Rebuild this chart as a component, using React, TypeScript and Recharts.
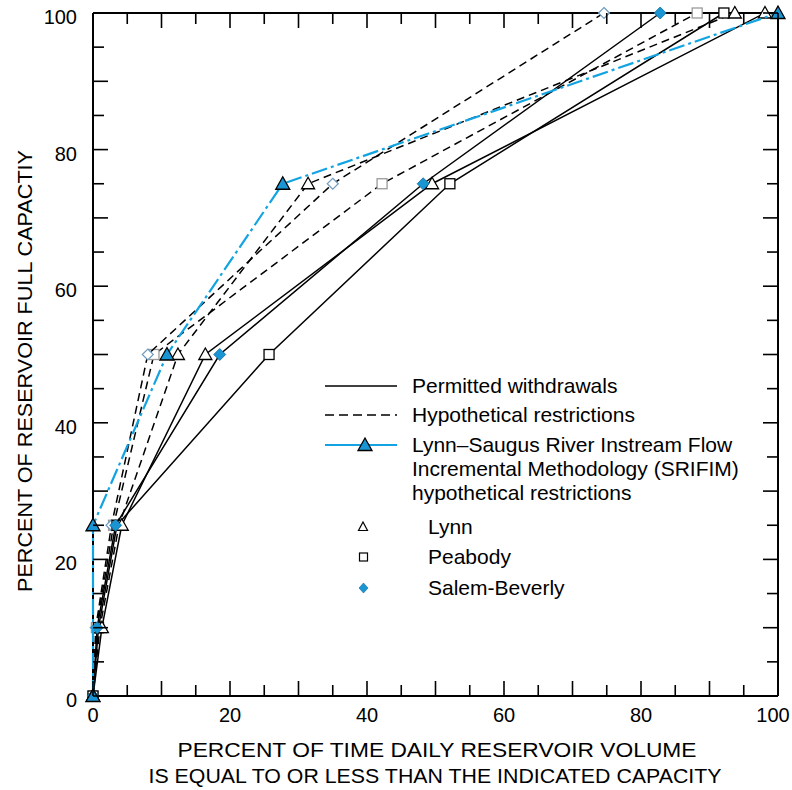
import React from 'react';
import { ScatterChart, Scatter, XAxis, YAxis } from 'recharts';

// ---- data (x = percent of time, y = percent of reservoir full capacity) ----
const capacityLevels = [0, 10, 25, 50, 75, 100];

const lynnPermitted = [0, 1.3, 4.2, 16.4, 49.5, 98.1];
const lynnHypothetical = [0, 1.0, 3.8, 12.4, 31.4, 93.7];
const peabodyPermitted = [0, 0.8, 3.5, 25.7, 52.1, 92.1];
const peabodyHypothetical = [0, 0.5, 3.0, 8.9, 42.2, 88.2];
const salemPermitted = [0, 0.6, 3.3, 18.5, 48.2, 82.8];
const salemHypothetical = [0, 0.4, 2.7, 8.0, 35.0, 74.6];

const srifimLevels = [0, 25, 50, 75, 100];
const srifimTime = [0, 0, 10.8, 27.7, 100];

const axisTicks = [0, 5, 10, 15, 20, 25, 30, 35, 40, 45, 50, 55, 60, 65, 70, 75, 80, 85, 90, 95, 100];
const labeledTicks = [0, 20, 40, 60, 80, 100];

const xTitle1 = 'PERCENT OF TIME DAILY RESERVOIR VOLUME';
const xTitle2 = 'IS EQUAL TO OR LESS THAN THE INDICATED CAPACITY';
const yTitle = 'PERCENT OF RESERVOIR FULL CAPACTIY';

const FONT = '"Liberation Sans", Arial, Helvetica, sans-serif';
const BLUE = '#12a4e2';
const BLUE_FILL = '#1995d3';

const toPoints = (xs: number[], ys: number[]) => xs.map((x, i) => ({ x, y: ys[i] }));

type Kind = 'tri' | 'triBlue' | 'sq' | 'sqGray' | 'dia' | 'diaOpen';

const Marker = ({ kind, cx, cy }: { kind: Kind; cx: number; cy: number }) => {
  if (cx == null || cy == null) return null;
  switch (kind) {
    case 'tri':
      return <polygon points={`${cx},${cy - 6.5} ${cx - 6.5},${cy + 5} ${cx + 6.5},${cy + 5}`} fill="#fff" stroke="#000" strokeWidth={1.3} />;
    case 'triBlue':
      return <polygon points={`${cx},${cy - 7} ${cx - 7},${cy + 5.5} ${cx + 7},${cy + 5.5}`} fill={BLUE_FILL} stroke="#000" strokeWidth={1.3} />;
    case 'sq':
      return <rect x={cx - 5} y={cy - 5} width={10} height={10} fill="#fff" stroke="#000" strokeWidth={1.3} />;
    case 'sqGray':
      return <rect x={cx - 5} y={cy - 5} width={10} height={10} fill="#fff" stroke="#9a9a9a" strokeWidth={1.3} />;
    case 'dia':
      return <polygon points={`${cx},${cy - 6} ${cx + 6},${cy} ${cx},${cy + 6} ${cx - 6},${cy}`} fill={BLUE_FILL} stroke="#0d6a9a" strokeWidth={0.8} />;
    case 'diaOpen':
      return <polygon points={`${cx},${cy - 5.5} ${cx + 5.5},${cy} ${cx},${cy + 5.5} ${cx - 5.5},${cy}`} fill="#fff" stroke="#6f9cc0" strokeWidth={1.2} />;
  }
  return null;
};

const TickMark = (props: any) => {
  const { x, y, payload, side } = props;
  const v = payload.value;
  const len = v % 10 === 0 ? 15 : 11;
  let x2 = x;
  let y2 = y;
  if (side === 'bottom') y2 = y - len;
  if (side === 'top') y2 = y + len;
  if (side === 'left') x2 = x + len;
  if (side === 'right') x2 = x - len;
  const show = labeledTicks.includes(v);
  return (
    <g>
      <line x1={x} y1={y} x2={x2} y2={y2} stroke="#000" strokeWidth={1.6} />
      {side === 'bottom' && show && (
        <text x={Math.min(x, 773)} y={y + 26} textAnchor="middle" fontSize={20} fontFamily={FONT} fill="#000">{v}</text>
      )}
      {side === 'left' && show && (
        <text x={x - 16} y={y + 11} textAnchor="end" fontSize={20} fontFamily={FONT} fill="#000">{v}</text>
      )}
    </g>
  );
};

const series = [
  { name: 'Peabody hyp', xs: peabodyHypothetical, ys: capacityLevels, kind: 'sqGray' as Kind, dash: '8 5', color: '#000', w: 1.5 },
  { name: 'Salem hyp', xs: salemHypothetical, ys: capacityLevels, kind: 'diaOpen' as Kind, dash: '8 5', color: '#000', w: 1.5 },
  { name: 'Lynn hyp', xs: lynnHypothetical, ys: capacityLevels, kind: 'tri' as Kind, dash: '8 5', color: '#000', w: 1.5 },
  { name: 'Peabody', xs: peabodyPermitted, ys: capacityLevels, kind: 'sq' as Kind, dash: undefined, color: '#000', w: 1.5 },
  { name: 'Lynn', xs: lynnPermitted, ys: capacityLevels, kind: 'tri' as Kind, dash: undefined, color: '#000', w: 1.5 },
  { name: 'Salem', xs: salemPermitted, ys: capacityLevels, kind: 'dia' as Kind, dash: undefined, color: '#000', w: 1.5 },
  { name: 'SRIFIM', xs: srifimTime, ys: srifimLevels, kind: 'triBlue' as Kind, dash: '16 4 3 4', color: BLUE, w: 2.2 },
];

const Legend = () => (
  <g fontFamily={FONT} fontSize={21} fill="#000">
    <line x1={325} y1={386} x2={397} y2={386} stroke="#000" strokeWidth={1.6} />
    <text x={412} y={393}>Permitted withdrawals</text>
    <line x1={325} y1={415} x2={397} y2={415} stroke="#000" strokeWidth={1.6} strokeDasharray="9 5" />
    <text x={412} y={422}>Hypothetical restrictions</text>
    <line x1={325} y1={445} x2={397} y2={445} stroke={BLUE} strokeWidth={2.2} />
    <Marker kind="triBlue" cx={365} cy={445} />
    <text x={412} y={452}>Lynn–Saugus River Instream Flow</text>
    <text x={412} y={476}>Incremental Methodology (SRIFIM)</text>
    <text x={412} y={500}>hypothetical restrictions</text>
    <polygon points="363,522 358.5,530.5 367.5,530.5" fill="#fff" stroke="#000" strokeWidth={1.2} />
    <text x={428} y={534}>Lynn</text>
    <rect x={359.5} y={553} width={8} height={8} fill="#fff" stroke="#000" strokeWidth={1.2} />
    <text x={428} y={564}>Peabody</text>
    <polygon points="363.5,583 368,588 363.5,593 359,588" fill={BLUE_FILL} stroke="#0d6a9a" strokeWidth={0.6} />
    <text x={428} y={595}>Salem-Beverly</text>
  </g>
);

export default function App() {
  return (
    <div style={{ position: 'absolute', left: 0, top: 0, width: 792, height: 790, background: '#fff' }}>
      <ScatterChart width={792} height={790} margin={{ top: 12, right: 13, left: 33, bottom: 54 }}>
        <XAxis
          type="number"
          dataKey="x"
          domain={[0, 100]}
          ticks={axisTicks}
          interval={0}
          height={40}
          tickSize={0}
          tickMargin={0}
          tickLine={false}
          axisLine={{ stroke: '#000', strokeWidth: 2 }}
          tick={(p: any) => <TickMark {...p} side="bottom" />}
        />
        <XAxis
          xAxisId="top"
          orientation="top"
          type="number"
          dataKey="x"
          domain={[0, 100]}
          ticks={axisTicks}
          interval={0}
          height={1}
          tickSize={0}
          tickMargin={0}
          tickLine={false}
          axisLine={{ stroke: '#000', strokeWidth: 2 }}
          tick={(p: any) => <TickMark {...p} side="top" />}
        />
        <YAxis
          type="number"
          dataKey="y"
          domain={[0, 100]}
          ticks={axisTicks}
          interval={0}
          width={60}
          tickSize={0}
          tickMargin={0}
          tickLine={false}
          axisLine={{ stroke: '#000', strokeWidth: 2 }}
          tick={(p: any) => <TickMark {...p} side="left" />}
        />
        <YAxis
          yAxisId="right"
          orientation="right"
          type="number"
          dataKey="y"
          domain={[0, 100]}
          ticks={axisTicks}
          interval={0}
          width={1}
          tickSize={0}
          tickMargin={0}
          tickLine={false}
          axisLine={{ stroke: '#000', strokeWidth: 2 }}
          tick={(p: any) => <TickMark {...p} side="right" />}
        />
        <Scatter
          xAxisId="top"
          yAxisId="right"
          data={toPoints(lynnPermitted, capacityLevels)}
          isAnimationActive={false}
          shape={() => <g />}
        />
        {series.map((s) => (
          <Scatter
            key={s.name}
            name={s.name}
            data={toPoints(s.xs, s.ys)}
            isAnimationActive={false}
            line={{ stroke: s.color, strokeWidth: s.w, strokeDasharray: s.dash, fill: 'none' }}
            lineType="joint"
            shape={(p: any) => <Marker kind={s.kind} cx={p.cx} cy={p.cy} />}
          />
        ))}
      </ScatterChart>
      <svg width={792} height={790} style={{ position: 'absolute', left: 0, top: 0, pointerEvents: 'none' }}>
        <Legend />
        <text x={437} y={757} textAnchor="middle" fontFamily={FONT} fontSize={20} textLength={519} lengthAdjust="spacingAndGlyphs">{xTitle1}</text>
        <text x={435} y={783} textAnchor="middle" fontFamily={FONT} fontSize={20} textLength={573} lengthAdjust="spacingAndGlyphs">{xTitle2}</text>
        <text
          x={0}
          y={0}
          transform="translate(32,371) rotate(-90)"
          textAnchor="middle"
          fontFamily={FONT}
          fontSize={20}
          textLength={442}
          lengthAdjust="spacingAndGlyphs"
        >
          {yTitle}
        </text>
      </svg>
    </div>
  );
}
